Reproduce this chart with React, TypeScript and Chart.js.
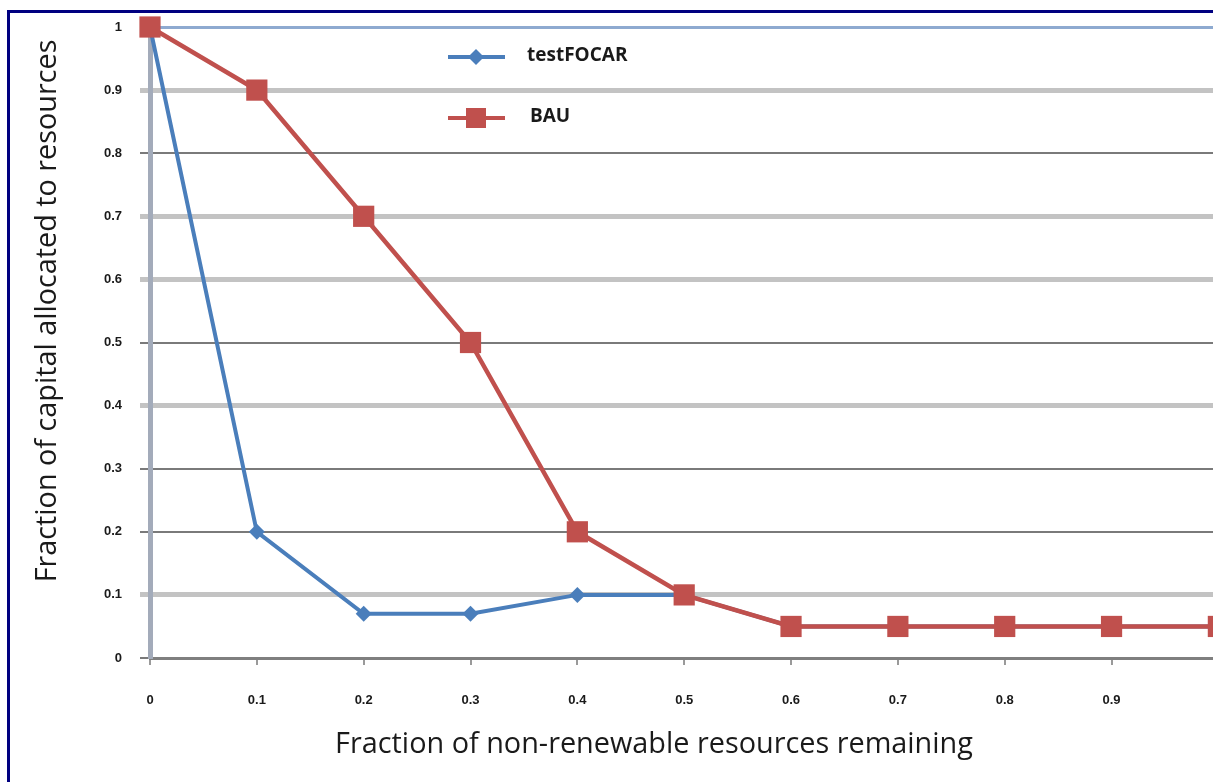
import React, { useEffect, useRef } from "react";
import { Chart, registerables } from "chart.js";

Chart.register(...registerables);

const xValues = [0, 0.1, 0.2, 0.3, 0.4, 0.5, 0.6, 0.7, 0.8, 0.9, 1];
const testFOCAR = [1, 0.2, 0.07, 0.07, 0.1, 0.1, 0.05, 0.05, 0.05, 0.05, 0.05];
const BAU = [1, 0.9, 0.7, 0.5, 0.2, 0.1, 0.05, 0.05, 0.05, 0.05, 0.05];
const seriesNames = ["testFOCAR", "BAU"];
const xTitle = "Fraction of non-renewable resources remaining";
const yTitle = "Fraction of capital allocated to resources";

const BLUE = "#4a7ebb";
const RED = "#c0504d";

// grid style per y value (scanned look: alternating light/dark lines)
const lightLines = [0.9, 0.7, 0.6, 0.4, 0.1];

function fitFont(ctx: CanvasRenderingContext2D, text: string, target: number, family: string) {
  ctx.font = `20px ${family}`;
  const w = ctx.measureText(text).width;
  return (20 * target) / w;
}

const overlayPlugin = {
  id: "overlay",
  afterDraw(chart: any) {
    const ctx: CanvasRenderingContext2D = chart.ctx;
    const family = '"Open Sans", "Noto Sans", sans-serif';
    ctx.save();
    // legend
    const items = [
      { name: seriesNames[0], color: BLUE, y: 57, marker: "diamond", tx: 527 },
      { name: seriesNames[1], color: RED, y: 118, marker: "square", tx: 530 },
    ];
    for (const it of items) {
      ctx.strokeStyle = it.color;
      ctx.lineWidth = 4;
      ctx.beginPath();
      ctx.moveTo(448, it.y);
      ctx.lineTo(505, it.y);
      ctx.stroke();
      ctx.fillStyle = it.color;
      ctx.beginPath();
      if (it.marker === "diamond") {
        ctx.moveTo(476, it.y - 8);
        ctx.lineTo(484, it.y);
        ctx.lineTo(476, it.y + 8);
        ctx.lineTo(468, it.y);
        ctx.closePath();
      } else {
        ctx.rect(466, it.y - 10, 20, 20);
      }
      ctx.fill();
      ctx.fillStyle = "#1a1a1a";
      ctx.font = `bold 19px "Open Sans", "Liberation Sans", Arial, sans-serif`;
      ctx.textAlign = "left";
      ctx.textBaseline = "middle";
      ctx.fillText(it.name, it.tx, it.y - 1);
    }
    // axis titles
    ctx.fillStyle = "#1a1a1a";
    ctx.textAlign = "center";
    ctx.textBaseline = "middle";
    const fx = fitFont(ctx, xTitle, 638, family);
    ctx.font = `${fx}px ${family}`;
    ctx.fillText(xTitle, 654, 745);
    const fy = fitFont(ctx, yTitle, 543, family);
    ctx.translate(48, 311);
    ctx.rotate(-Math.PI / 2);
    ctx.font = `${fy}px ${family}`;
    ctx.fillText(yTitle, 0, 0);
    ctx.restore();
  },
};

export default function App() {
  const ref = useRef<HTMLCanvasElement>(null);
  useEffect(() => {
    if (!ref.current) return;
    const tickFont = { family: '"Liberation Sans", Arial, sans-serif', size: 13, weight: "bold" as const };
    const chart = new Chart(ref.current, {
      type: "line",
      data: {
        datasets: [
          {
            label: seriesNames[0],
            data: xValues.map((x, i) => ({ x, y: testFOCAR[i] })),
            borderColor: BLUE,
            backgroundColor: BLUE,
            borderWidth: 4,
            pointStyle: "rectRot",
            pointRadius: 8,
            pointBorderWidth: 0,
            order: 1,
            clip: false as any,
          },
          {
            label: seriesNames[1],
            data: xValues.map((x, i) => ({ x, y: BAU[i] })),
            borderColor: RED,
            backgroundColor: RED,
            borderWidth: 4.5,
            pointStyle: "rect",
            pointRadius: 15,
            pointBorderWidth: 0,
            order: 0,
            clip: false as any,
          },
        ],
      },
      options: {
        animation: false,
        responsive: false,
        maintainAspectRatio: false,
        layout: { padding: { left: 0, top: 27, right: 0, bottom: 0 } },
        plugins: { legend: { display: false }, tooltip: { enabled: false } },
        scales: {
          x: {
            type: "linear",
            min: 0,
            max: 1,
            afterFit: (s: any) => {
              s.height = 124;
            },
            ticks: {
              stepSize: 0.1,
              padding: 28,
              color: "#1a1a1a",
              font: tickFont,
              callback: (v: any) => String(Math.round(Number(v) * 10) / 10),
              maxRotation: 0,
            },
            grid: {
              drawOnChartArea: false,
              drawTicks: true,
              tickLength: 7,
              tickColor: "#9a9a9a",
              lineWidth: 2,
            },
            border: { color: "#7f7f7f", width: 3 },
          },
          y: {
            type: "linear",
            min: 0,
            max: 1,
            afterFit: (s: any) => {
              s.width = 150;
            },
            ticks: {
              stepSize: 0.1,
              padding: 18,
              color: "#1a1a1a",
              font: tickFont,
              callback: (v: any) => String(Math.round(Number(v) * 10) / 10),
            },
            grid: {
              tickLength: 10,
              color: (c: any) => {
                const v = Math.round((c.tick?.value ?? 0) * 10) / 10;
                if (v === 1) return "#8eaad0";
                return lightLines.includes(v) ? "#c3c3c3" : "#7a7a7a";
              },
              lineWidth: (c: any) => {
                const v = Math.round((c.tick?.value ?? 0) * 10) / 10;
                if (v === 1) return 3;
                return lightLines.includes(v) ? 5 : 2;
              },
            },
            border: { color: "#a3abba", width: 5 },
          },
        },
      },
      plugins: [overlayPlugin],
    });
    return () => chart.destroy();
  }, []);

  return (
    <div style={{ position: "fixed", left: 0, top: 0, width: 1213, height: 782, overflow: "hidden", background: "#fff" }}>
      <canvas ref={ref} width={1250} height={782} style={{ position: "absolute", left: 0, top: 0, width: 1250, height: 782 }} />
      <div
        style={{
          position: "absolute",
          left: 7,
          top: 10,
          width: 1300,
          height: 900,
          borderLeft: "3px solid #000080",
          borderTop: "3px solid #000080",
          pointerEvents: "none",
        }}
      />
    </div>
  );
}
